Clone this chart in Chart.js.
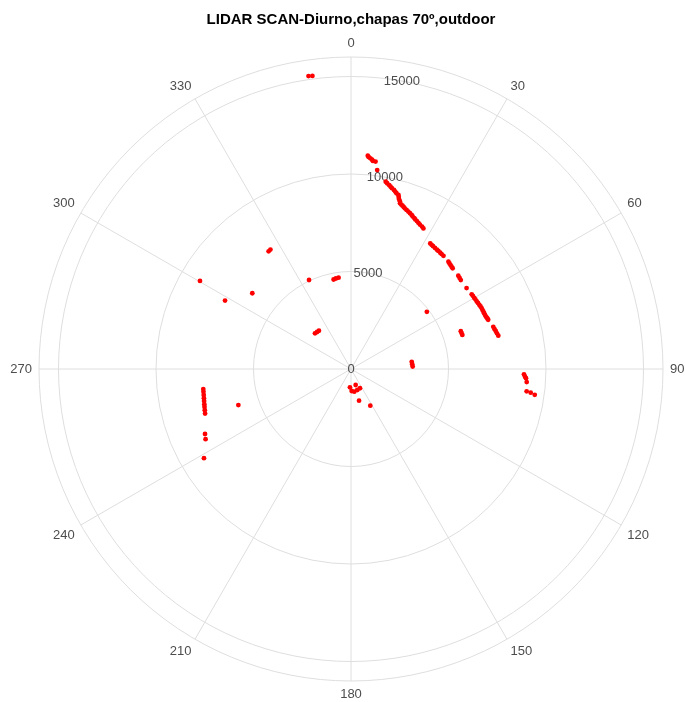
<!DOCTYPE html>
<html>
<head>
<meta charset="utf-8">
<script src="https://cdn.jsdelivr.net/npm/chart.js@4.4.0/dist/chart.umd.min.js"></script>
<style>
  html, body { margin: 0; padding: 0; background: #fff; }
  #wrap { width: 685px; height: 702px; }
</style>
</head>
<body>
<div id="wrap"><canvas id="mycanvas"></canvas></div>
<script>
// scan angle (degrees, clockwise from 0) and distance (mm)
var angles = [
  351.8, 352.4,
  4.48, 4.85, 5.29, 5.73, 6.12, 6.80, 7.53,
  10.58, 11.12, 11.67, 12.22, 12.78, 13.38, 13.99, 14.61, 15.21, 15.53, 15.83, 16.15, 16.47, 16.97,
  17.52, 18.05, 18.57, 19.28, 20.00, 20.75, 21.51, 22.12, 22.71, 23.33, 23.94, 24.72, 25.54, 26.39, 27.19,
  32.15, 33.03, 33.87, 34.77, 35.64, 36.50, 37.40, 38.31, 39.17,
  42.20, 42.95, 43.74, 44.52, 45.28,
  48.99, 49.95, 50.94, 55.10,
  58.25, 59.11, 59.97, 60.83, 61.70, 62.55, 63.40, 64.24, 65.09, 65.84, 66.60, 67.31, 68.05, 68.64, 69.22, 69.81, 70.36,
  73.45, 74.42, 75.37, 76.33, 77.26,
  52.88, 70.89, 71.95, 73.01,
  83.14, 85.52, 87.87,
  91.75, 92.40, 93.04, 94.33, 97.14, 97.51, 98.06,
  183.13, 163.63, 178.18, 171.73, 163.30, 155.0, 165.84, 152.26,
  262.29, 261.14, 259.99, 258.85, 257.71, 256.58, 255.46, 254.34, 253.12,
  252.28, 246.00, 244.18, 238.72,
  324.92, 326.03, 300.23, 298.46, 307.49, 334.74,
  348.94, 350.59, 352.20,
  314.76, 317.42, 320.12
];
var dists = [
  15180, 15160,
  10970, 10910, 10850, 10790, 10730, 10710, 10290,
  9770, 9705, 9630, 9570, 9510, 9440, 9375, 9310, 9250, 9155, 9060, 8960, 8860, 8820,
  8780, 8740, 8690, 8640, 8590, 8540, 8490, 8440, 8395, 8350, 8305, 8255, 8205, 8160, 8110,
  7615, 7590, 7575, 7555, 7540, 7530, 7515, 7505, 7495,
  7430, 7405, 7380, 7360, 7340,
  7290, 7270, 7245, 7235,
  7280, 7290, 7295, 7310, 7320, 7340, 7355, 7375, 7390, 7390, 7400, 7405, 7410, 7420, 7445, 7460, 7475,
  7610, 7640, 7675, 7705, 7745,
  4870, 5955, 5960, 5970,
  3135, 3150, 3165,
  8875, 8930, 8985, 9035, 9080, 9295, 9515,
  940, 855, 1130, 1175, 1125, 1090, 1675, 2125,
  7645, 7655, 7670, 7690, 7710, 7735, 7760, 7790, 7825,
  6065, 8195, 8280, 8820,
  7365, 7390, 8965, 7350, 6380, 5045,
  4675, 4705, 4725,
  2600, 2575, 2560
];
var radialTicks = [0, 5000, 10000, 15000, 16000];
var radialLabels = [0, 5000, 10000, 15000];
var angleTicks = [0, 30, 60, 90, 120, 150, 180, 210, 240, 270, 300, 330];
var angleStep = 0.25;      // resolution of the angular categories

var nSlots = Math.round(360 / angleStep);
var labels = [];
for (var i = 0; i < nSlots; i++) labels.push(String(i * angleStep));

// put each point into a slot; if taken, use another dataset
var series = [];
for (var k = 0; k < angles.length; k++) {
  var idx = Math.round(angles[k] / angleStep) % nSlots;
  var d = 0;
  while (series[d] && series[d][idx] != null) d++;
  if (!series[d]) series[d] = new Array(nSlots).fill(null);
  series[d][idx] = dists[k];
}

var datasets = series.map(function(s) {
  return {
    data: s,
    showLine: false,
    fill: false,
    pointRadius: 2.4,
    pointHoverRadius: 2.4,
    pointBorderWidth: 0,
    pointBackgroundColor: '#ff0000',
    borderColor: '#ff0000'
  };
});

var angleSlots = angleTicks.map(function(a) { return Math.round(a / angleStep); });

// axis texts: radial values along a ray 10 degrees off the top, angles outside the rim
var axisTextPlugin = {
  id: 'axisText',
  beforeDatasetsDraw: function(chart) {
    var s = chart.scales.r;
    var ctx = chart.ctx;
    var at = Math.round(10 / angleStep);
    ctx.save();
    ctx.font = '13px "Liberation Sans", Arial, sans-serif';
    ctx.fillStyle = '#4d4d4d';
    ctx.textAlign = 'center';
    ctx.textBaseline = 'middle';
    radialLabels.forEach(function(v) {
      var p = s.getPointPositionForValue(at, v);
      ctx.fillText(String(v), p.x, p.y);
    });

    angleTicks.forEach(function(a, n) {
      var p = s.getPointPosition(angleSlots[n], s.drawingArea + 7);
      ctx.textAlign = (a === 0 || a === 180) ? 'center' : (a < 180 ? 'left' : 'right');
      if (a === 90 || a === 270) ctx.textBaseline = 'middle';
      else if (a < 90 || a > 270) ctx.textBaseline = 'bottom';
      else ctx.textBaseline = 'top';
      ctx.fillText(String(a), p.x, p.y);
    });
    ctx.restore();
  }
};

var slotIsTick = function(index) { return angleSlots.indexOf(index) >= 0; };

new Chart(document.getElementById('mycanvas'), {
  type: 'radar',
  data: { labels: labels, datasets: datasets },
  plugins: [axisTextPlugin],
  options: {
    responsive: true,
    maintainAspectRatio: false,
    animation: false,
    layout: { padding: { left: 39, right: 22, bottom: 21 } },
    plugins: {
      legend: { display: false },
      tooltip: { enabled: false },
      title: {
        display: true,
        text: 'LIDAR SCAN-Diurno,chapas 70º,outdoor',
        color: '#000',
        font: { family: '"Liberation Sans", Arial, sans-serif', size: 15, weight: 'bold' },
        padding: { top: 11, bottom: 28 }
      }
    },
    scales: {
      r: {
        min: 0,
        max: 16000,
        afterBuildTicks: function(s) {
          s.ticks = radialTicks.map(function(v) { return { value: v }; });
        },
        ticks: { display: false },
        grid: { circular: true, color: '#dedede', lineWidth: 1 },
        angleLines: {
          color: function(c) { return slotIsTick(c.index) ? '#dedede' : 'rgba(0,0,0,0)'; },
          lineWidth: function(c) { return slotIsTick(c.index) ? 1 : 0; }
        },
        pointLabels: { display: false }
      }
    }
  }
});
</script>
</body>
</html>
